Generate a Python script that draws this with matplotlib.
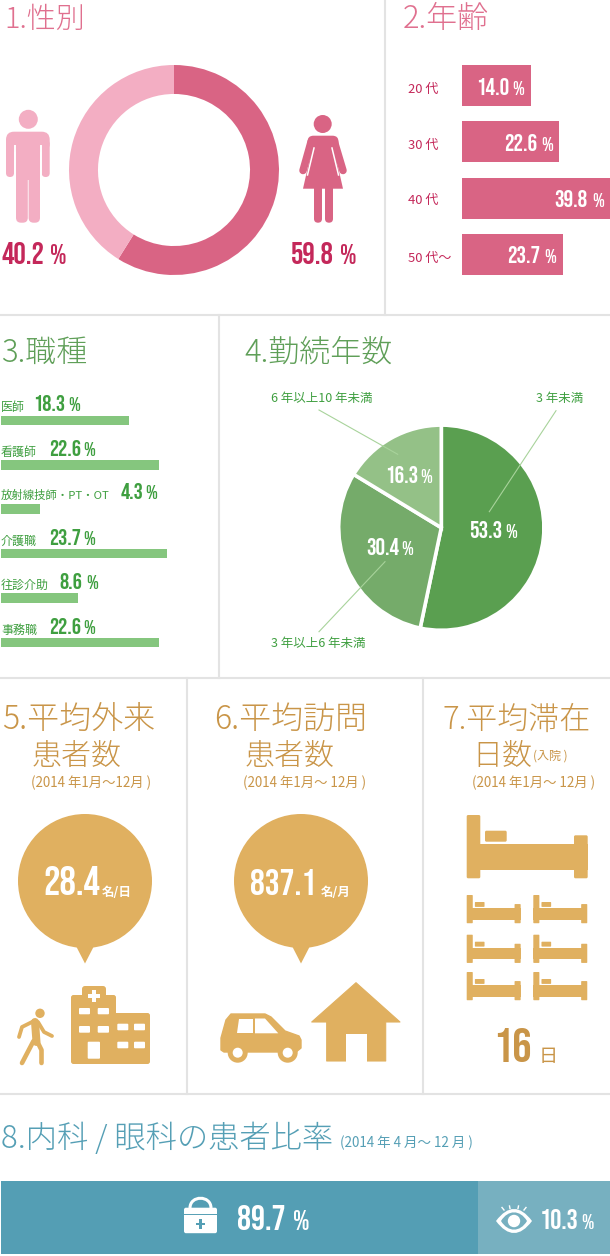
import matplotlib
matplotlib.use('Agg')
import matplotlib.pyplot as plt
from matplotlib.patches import Circle, FancyBboxPatch, PathPatch, Polygon, Rectangle
from matplotlib.path import Path

# datos
sex_labels = ['女性', '男性']
sex_values = [59.8, 40.2]
# el arco dibujado no coincide del todo con el porcentaje impreso
sex_arc_lengths = [58.9, 41.1]

age_labels = ['20 代', '30 代', '40 代', '50 代〜']
age_values = [14.0, 22.6, 39.8, 23.7]
# el largo dibujado no siempre sigue al porcentaje impreso
age_bar_lengths = [16.2, 22.6, 39.8, 23.7]

job_labels = ['医師', '看護師', '放射線技師・PT・OT', '介護職', '往診介助', '事務職']
job_values = [18.3, 22.6, 4.3, 23.7, 8.6, 22.6]
job_bar_lengths = [18.3, 22.6, 5.6, 23.7, 11.0, 22.6]

years_labels = ['3 年未満', '3 年以上6 年未満', '6 年以上10 年未満']
years_values = [53.3, 30.4, 16.3]

outpatients = '28.4'
visits = '837.1'
stay_days = '16'

dept_values = [89.7, 10.3]
dept_bar_lengths = [78.4, 21.6]

W, H = 610, 1256
JP = ['Noto Sans CJK JP', 'DejaVu Sans']
NUM = ['Bebas Neue', 'Liberation Sans', 'DejaVu Sans']

PINK = '#D96484'
PINK_LIGHT = '#F3AEC3'
PINK_TITLE = '#E0708F'
PINK_TEXT = '#C4285A'
GREEN_BAR = '#85C67E'
GREEN_TITLE = '#5F9F58'
GREEN_TEXT = '#3F9F40'
GREEN_PIE = ['#5A9F50', '#75AB6A', '#94C187']
GOLD = '#E0B060'
GOLD_TEXT = '#C99548'
TEAL = '#549EB4'
TEAL_LIGHT = '#77B0C0'
TEAL_TITLE = '#559FB5'
RULE = '#E3E3E3'

fig = plt.figure(figsize=(W / 100, H / 100), dpi=100, facecolor='white')


def ax_px(x0, y0, x1, y1):
    # ejes a partir de una caja en pixeles, con origen arriba a la izquierda
    ax = fig.add_axes([x0 / W, 1 - y1 / H, (x1 - x0) / W, (y1 - y0) / H])
    ax.axis('off')
    return ax


def pie_px(cx, cy, r):
    ax = ax_px(cx - r * 1.02, cy - r * 1.02, cx + r * 1.02, cy + r * 1.02)
    ax.set_aspect('equal')
    return ax


# --- 1 donut
ax = pie_px(174, 170, 105)
ax.pie(sex_arc_lengths, colors=[PINK, PINK_LIGHT], startangle=90, counterclock=False,
       radius=1, wedgeprops={'width': 0.276})
ax.set_xlim(-1.02, 1.02)
ax.set_ylim(-1.02, 1.02)

# --- 2 edad
ax = ax_px(462, 57.3, 610, 283)
ax.barh(range(4), age_bar_lengths, height=0.727, color=PINK)
ax.set_xlim(0, 148 / 4.27)
ax.set_ylim(3.5, -0.5)

# --- 3 puesto
ax = ax_px(1, 398.2, 211, 664.6)
ax.barh(range(6), job_bar_lengths, height=0.214, color=GREEN_BAR)
ax.set_xlim(0, 30)
ax.set_ylim(5.5, -0.5)

# --- 4 antiguedad
ax = pie_px(441.3, 527.7, 102.6)
ax.pie(years_values, colors=GREEN_PIE, startangle=90, counterclock=False, radius=1,
       wedgeprops={'edgecolor': 'white', 'linewidth': 2.6})
ax.set_xlim(-1.02, 1.02)
ax.set_ylim(-1.02, 1.02)

# --- 8 barra apilada
ax = ax_px(1, 1181, 610, 1254)
ax.barh([0], [dept_bar_lengths[0]], height=1, color=TEAL)
ax.barh([0], [dept_bar_lengths[1]], left=[dept_bar_lengths[0]], height=1, color=TEAL_LIGHT)
ax.set_xlim(0, 100)
ax.set_ylim(-0.5, 0.5)

# capa superior en pixeles para textos, lineas e iconos
top = fig.add_axes([0, 0, 1, 1], facecolor='none')
top.set_xlim(0, W)
top.set_ylim(H, 0)
top.axis('off')


def text(x, y, s, px, color, family=JP, ha='left', **kw):
    top.text(x, y, s, fontsize=px * 0.72, color=color, family=family, ha=ha, va='baseline', **kw)


def num(x_right, y, value, px, color, pct_x, pct_px):
    # numero condensado alineado a la derecha y el % mas chico a continuacion
    text(x_right, y, value, px, color, family=NUM, ha='right')
    text(pct_x, y, '%', pct_px, color, family=NUM)


def rbox(x, y, w, h, r, color, z=3):
    top.add_patch(FancyBboxPatch((x + r, y + r), w - 2 * r, h - 2 * r,
                                 boxstyle=f'round,pad={r},rounding_size={r}',
                                 fc=color, ec='none', zorder=z))


def stroke(pts, w, color, z=3):
    xs, ys = zip(*pts)
    top.plot(xs, ys, color=color, lw=w * 0.72, solid_capstyle='round',
             solid_joinstyle='round', zorder=z)


def bed(x, y, k):
    rbox(x, y, 13.6 * k, 63.3 * k, 1.5 * k, GOLD)
    rbox(x + 107.3 * k, y + 20.3 * k, 13.7 * k, 43 * k, 1.5 * k, GOLD)
    top.add_patch(Rectangle((x, y + 29.3 * k), 121 * k, 25.7 * k, fc=GOLD, ec='none', zorder=3))
    rbox(x + 18.3 * k, y + 15.7 * k, 21.7 * k, 11 * k, 1.5 * k, GOLD)


# separadores
for x0, y0, x1, y1 in [(385, 0, 385, 315), (0, 315, 610, 315), (219, 315, 219, 678),
                       (0, 678, 610, 678), (187, 678, 187, 1094), (423, 678, 423, 1094),
                       (0, 1094, 610, 1094)]:
    top.plot([x0, x1], [y0, y1], color=RULE, lw=1.5, zorder=1)

# titulos
text(4, 28, '1.性別', 29, PINK_TITLE, weight='light')
text(403, 28, '2.年齢', 31, PINK_TITLE, weight='light')
text(1, 362, '3.職種', 31, GREEN_TITLE, weight='light')
text(244, 362, '4.勤続年数', 31, GREEN_TITLE, weight='light')
text(2, 729, '5.平均外来', 32, GOLD_TEXT, weight='light')
text(32, 765, '患者数', 30, GOLD_TEXT, weight='light')
text(214, 729, '6.平均訪問', 32, GOLD_TEXT, weight='light')
text(245, 765, '患者数', 30, GOLD_TEXT, weight='light')
text(442, 729, '7.平均滞在', 31, GOLD_TEXT, weight='light')
text(472, 765, '日数', 30, GOLD_TEXT, weight='light')
text(533, 760, '(入院 )', 12, GOLD_TEXT)
text(1, 1148, '8.内科 / 眼科の患者比率', 31.3, TEAL_TITLE, weight='light')
text(31, 787, '(2014 年1月〜12月 )', 13.4, GOLD_TEXT)
text(243, 787, '(2014 年1月〜 12月 )', 13.4, GOLD_TEXT)
text(472, 787, '(2014 年1月〜 12月 )', 13.4, GOLD_TEXT)
text(340, 1147, '(2014 年 4 月〜 12 月 )', 13.5, TEAL_TITLE)

# 1: iconos y valores
top.add_patch(Circle((28.3, 119.3), 9.5, fc=PINK_LIGHT, ec='none', zorder=3))
rbox(6, 131.7, 43.7, 20, 8, PINK_LIGHT)
rbox(6, 140, 8, 37, 4, PINK_LIGHT)
rbox(41.7, 140, 8, 37, 4, PINK_LIGHT)
top.add_patch(Rectangle((16, 135), 24, 45, fc=PINK_LIGHT, ec='none', zorder=3))
top.plot([15, 15], [146, 175], color='white', lw=1.4, zorder=4)
top.plot([41, 41], [146, 175], color='white', lw=1.4, zorder=4)
rbox(16, 170, 11.8, 52.7, 5, PINK_LIGHT)
rbox(28.6, 170, 11.4, 52.7, 5, PINK_LIGHT)

top.add_patch(Circle((322.7, 124), 9, fc=PINK, ec='none', zorder=3))
stroke([(311, 142), (303, 170.5)], 7.5, PINK)
stroke([(334.5, 142), (343, 170.5)], 7.5, PINK)
rbox(307.5, 135.7, 31, 14, 6, PINK)
top.add_patch(Polygon([(314, 140), (332, 140), (343, 188.7), (303, 188.7)], fc=PINK, ec='none', zorder=3))
top.plot([314, 307.5], [148, 175], color='white', lw=1.1, zorder=4)
top.plot([332, 338.5], [148, 175], color='white', lw=1.1, zorder=4)
rbox(314, 180, 8, 42.7, 4, PINK)
rbox(325, 180, 8, 42.7, 4, PINK)

num(44.3, 263.5, f'{sex_values[1]:.1f}', 31, PINK_TEXT, 50, 28)
num(334, 263.5, f'{sex_values[0]:.1f}', 31, PINK_TEXT, 340, 28)

# 2: etiquetas
for label, y in zip(age_labels, [93, 149, 204, 262]):
    text(408, y, label, 13, PINK_TEXT)
for v, xr, xp, y in zip(age_values, [509.3, 537.3, 587.3, 540], [512, 541.5, 592.5, 544.5], [95, 151, 207, 263]):
    num(xr, y, f'{v:.1f}', 24, 'white', xp, 20)

# 3: etiquetas
job_label_px = [12, 12, 11.4, 12, 12, 12]
job_num_right = [65, 81, 143, 81, 82, 81]
job_pct_left = [68, 83.5, 145.5, 83.5, 86.5, 83.5]
for label, lp, v, xr, xp, y in zip(job_labels, job_label_px, job_values, job_num_right, job_pct_left,
                                   [410.7, 455.7, 499, 545, 589, 634]):
    text(1, y, label, lp, GREEN_TEXT)
    num(xr, y, f'{v:.1f}', 23, GREEN_TEXT, xp, 20)

# 4: lineas guia y etiquetas
for pts in [[(556, 410.7), (489.3, 511.7)], [(319, 410), (397.7, 454.3)], [(319, 631.7), (385, 561.7)]]:
    xs, ys = zip(*pts)
    top.plot(xs, ys, color='#A8D39B', lw=0.8, zorder=5)
text(535.5, 401.7, years_labels[0], 12.5, GREEN_TEXT)
text(271, 647, years_labels[1], 12.5, GREEN_TEXT)
text(271, 401.7, years_labels[2], 12.5, GREEN_TEXT)
num(502.7, 538, f'{years_values[0]:.1f}', 24, 'white', 505, 20)
num(399, 555, f'{years_values[1]:.1f}', 24, 'white', 401.5, 20)
num(418, 483, f'{years_values[2]:.1f}', 24, 'white', 420.5, 20)

# 5 y 6: globos
for cx in [85, 301]:
    top.add_patch(Circle((cx, 881), 67, fc=GOLD, ec='none', zorder=2))
    top.add_patch(Polygon([(cx - 9, 946), (cx + 9, 946), (cx, 963.5)], fc=GOLD, ec='none', zorder=2))
text(100, 895, outpatients, 41, 'white', family=NUM, ha='right')
text(102, 896, '名/日', 12.5, 'white', weight='bold')
text(316, 895, visits, 37, 'white', family=NUM, ha='right')
text(320.7, 896, '名/月', 12.5, 'white', weight='bold')

# peaton
top.add_patch(Circle((40, 1013.3), 4.7, fc=GOLD, ec='none', zorder=3))
stroke([(35, 1022), (36.5, 1042)], 8, GOLD)
stroke([(33.5, 1041), (22, 1063)], 4.6, GOLD)
stroke([(37, 1041), (41.5, 1050), (41.5, 1063)], 4.6, GOLD)
stroke([(34, 1021), (22, 1027), (19, 1037)], 3.8, GOLD)
stroke([(38, 1022), (44, 1032), (52, 1036)], 3.8, GOLD)

# hospital
rbox(71, 995, 45, 69, 2.5, GOLD)
rbox(82, 986, 24, 15, 3, GOLD)
rbox(100, 1013, 50, 51, 2.5, GOLD)
top.add_patch(Rectangle((87.5, 993.5), 12.5, 4.2, fc='white', ec='none', zorder=4))
top.add_patch(Rectangle((91.6, 989.5), 4.2, 12.5, fc='white', ec='none', zorder=4))
for x, y, w, h in [(79, 1008, 11, 6.3), (97.7, 1008, 11.3, 6.3), (79, 1026, 11, 6.7), (97.7, 1026, 11.3, 6.7),
                   (117.3, 1023.7, 11, 6.6), (134, 1023.7, 11, 6.6), (117.3, 1041.7, 11, 6.6),
                   (134, 1041.7, 11, 6.6), (87.7, 1041.7, 12.3, 17)]:
    rbox(x, y, w, h, 1, 'white', z=4)

# coche
top.add_patch(Polygon([(221, 1050), (221, 1038), (226, 1020), (231, 1014), (265, 1014), (271, 1017), (285, 1031),
                       (299, 1036), (301, 1040), (301, 1048), (296, 1052), (224, 1052)],
                      fc=GOLD, ec=GOLD, lw=1, joinstyle='round', zorder=3))
top.add_patch(Polygon([(239, 1018.5), (253.3, 1018.5), (253.3, 1033.3), (236.7, 1033.3)], fc='white', ec='none', zorder=4))
top.add_patch(Polygon([(255, 1018.5), (265, 1018.5), (278.3, 1033.3), (255, 1033.3)], fc='white', ec='none', zorder=4))
for cx in [237.7, 287.7]:
    top.add_patch(Circle((cx, 1052.7), 10, fc=GOLD, ec='none', zorder=4))
    top.add_patch(Circle((cx, 1052.7), 5, fc='white', ec='none', zorder=5))

# casa
top.add_patch(Polygon([(356, 982.7), (400, 1022), (385.7, 1022), (385.7, 1061), (326.7, 1061), (326.7, 1022), (311.7, 1022)],
                      fc=GOLD, ec=GOLD, lw=0.8, joinstyle='round', zorder=3))
top.add_patch(Polygon([(345.7, 1062), (345.7, 1034.3), (367.3, 1034.3), (367.3, 1062)], fc='white', ec='none', zorder=4))

# 7: camas
bed(466.7, 815, 1)
for x in [466.7, 533.3]:
    for y in [895, 934.7, 972]:
        bed(x, y, 0.446)
text(532, 1062, stay_days, 48, GOLD_TEXT, family=NUM, ha='right')
text(539, 1062, '日', 19, GOLD_TEXT)

# 8: maletin
rbox(184, 1207.7, 33, 25.5, 2, 'white', z=4)
top.plot([184, 217], [1213.5, 1213.5], color=TEAL, lw=0.7, zorder=5)
top.add_patch(PathPatch(Path([(190, 1208), (190, 1195), (211, 1195), (211, 1208)],
                             [Path.MOVETO, Path.CURVE4, Path.CURVE4, Path.CURVE4]),
                        fc='none', ec='white', lw=2.2, zorder=4))
top.add_patch(Rectangle((196, 1222.7), 9.2, 2.6, fc=TEAL, ec='none', zorder=5))
top.add_patch(Rectangle((199.3, 1219.4), 2.6, 9.2, fc=TEAL, ec='none', zorder=5))
num(286, 1230, f'{dept_values[0]:.1f}', 35, 'white', 293.5, 28)

# 8: ojo
def almond(x0, x1, yc, bulge):
    xm = (x0 + x1) / 2
    return Path([(x0, yc), (xm - 6, yc - bulge), (xm + 6, yc - bulge), (x1, yc),
                 (xm + 6, yc + bulge), (xm - 6, yc + bulge), (x0, yc)],
                [Path.MOVETO, Path.CURVE4, Path.CURVE4, Path.CURVE4, Path.CURVE4, Path.CURVE4, Path.CURVE4])


top.add_patch(PathPatch(almond(496, 532, 1221, 16), fc='white', ec='none', zorder=4))
top.add_patch(PathPatch(almond(501, 527, 1221, 11.5), fc=TEAL_LIGHT, ec='none', zorder=5))
top.add_patch(Circle((514, 1221), 6.2, fc='white', ec='none', zorder=6))
for x0, y0, x1, y1 in [(504, 1210, 502, 1207.5), (510, 1208.5, 509.5, 1206), (518, 1208.5, 518.5, 1206), (524, 1210, 526, 1207.5)]:
    top.plot([x0, x1], [y0, y1], color='white', lw=1, zorder=4)
num(578, 1229, f'{dept_values[1]:.1f}', 28, 'white', 581.5, 21)

fig.savefig('out.png', dpi=100, facecolor='white')
